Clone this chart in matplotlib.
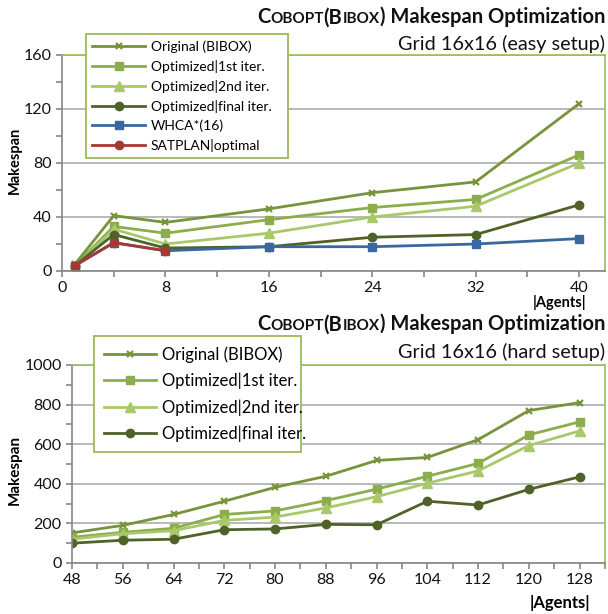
import matplotlib.pyplot as plt
from matplotlib.ticker import MultipleLocator
from matplotlib.offsetbox import TextArea, HPacker, AnnotationBbox

plt.rcParams['font.family'] = ['Lato', 'DejaVu Sans']

# easy setup (top chart)
easy_agents = [1, 4, 8, 16, 24, 32, 40]
easy_original = [5, 41, 36, 46, 58, 66, 124]
easy_opt1 = [4, 33, 28, 38, 47, 53, 86]
easy_opt2 = [3, 31, 20, 28, 40, 48, 80]
easy_final = [4, 27, 17, 18, 25, 27, 49]
easy_whca = [4, 21, 15, 18, 18, 20, 24]
satplan_agents = [1, 4, 8]
easy_satplan = [4, 21, 15]

# hard setup (bottom chart)
hard_agents = [48, 56, 64, 72, 80, 88, 96, 104, 112, 120, 128]
hard_original = [152, 190, 245, 312, 382, 438, 518, 533, 623, 770, 810]
hard_opt1 = [130, 155, 175, 245, 263, 315, 373, 438, 503, 647, 713]
hard_opt2 = [120, 148, 163, 215, 232, 278, 335, 403, 465, 593, 667]
hard_final = [100, 115, 120, 168, 172, 195, 193, 312, 293, 372, 435]

C_ORIG = '#77933c'
C_OPT1 = '#8cad4b'
C_OPT2 = '#a9c86c'
C_FINAL = '#4f6228'
C_WHCA = '#3a67a0'
C_SAT = '#a83733'
FRAME = '#9bbb59'
AXC = '#868686'

W, H = 608, 614
fig = plt.figure(figsize=(W / 100, H / 100), dpi=100)


def px(x, y):
    return x / W, 1 - y / H


def make_axes(left, top, right, bottom):
    ax = fig.add_axes([left / W, 1 - bottom / H, (right - left) / W, (bottom - top) / H])
    for s in ['top', 'right']:
        ax.spines[s].set_color(FRAME)
    for s in ['left', 'bottom']:
        ax.spines[s].set_color(AXC)
    for s in ax.spines.values():
        s.set_linewidth(1.2)
    ax.yaxis.grid(True, color='#a6a6a6', lw=1.1)
    ax.set_axisbelow(True)
    ax.tick_params(which='both', direction='out', color=AXC, width=1.2, labelsize=11.5,
                   labelcolor='#111111')
    ax.tick_params(which='major', length=4)
    ax.tick_params(which='minor', length=4)
    return ax


def title(y1, y2, sub):
    parts = [('C', 14.5), ('OBOPT', 11), ('(B', 14.5), ('IBOX', 11), (') Makespan Optimization', 14.5)]
    areas = [TextArea(t, textprops=dict(fontsize=s, fontweight='bold', color='#111111'))
             for t, s in parts]
    box = HPacker(children=areas, align='baseline', pad=0, sep=0)
    ab = AnnotationBbox(box, px(605, y1), xycoords='figure fraction', box_alignment=(1, 0.5),
                        frameon=False, pad=0)
    fig.add_artist(ab)
    fig.text(*px(605, y2), sub, ha='right', va='center', fontsize=14.3, color='#111111')


def legend(ax, x0, y0, x1, y1, fs, spacing, hl, bpad):
    leg = ax.legend(loc='upper left',
                    bbox_to_anchor=(x0 / W, 1 - y1 / H, (x1 - x0) / W, (y1 - y0) / H),
                    bbox_transform=fig.transFigure, mode='expand', fontsize=fs,
                    frameon=True, fancybox=False, edgecolor=FRAME, framealpha=1,
                    handlelength=hl, labelspacing=spacing, borderpad=bpad,
                    handletextpad=0.4, borderaxespad=0)
    leg.get_frame().set_linewidth(1.3)


# ---------------- top chart ----------------
ax1 = make_axes(62, 55, 605, 271)
ax1.plot(easy_agents, easy_original, color=C_ORIG, lw=2, marker='x', ms=5, mew=1.6,
         label='Original (BIBOX)')
ax1.plot(easy_agents, easy_opt1, color=C_OPT1, lw=2, marker='s', ms=6, label='Optimized|1st iter.')
ax1.plot(easy_agents, easy_opt2, color=C_OPT2, lw=2, marker='^', ms=7, label='Optimized|2nd iter.')
ax1.plot(easy_agents, easy_final, color=C_FINAL, lw=2, marker='o', ms=6, label='Optimized|final iter.')
ax1.plot(easy_agents, easy_whca, color=C_WHCA, lw=2, marker='s', ms=6, label='WHCA*(16)')
ax1.plot(satplan_agents, easy_satplan, color=C_SAT, lw=2, marker='o', ms=6, label='SATPLAN|optimal')
ax1.set_xlim(0, 42)
ax1.set_ylim(0, 160)
ax1.set_xticks([0, 8, 16, 24, 32, 40])
ax1.xaxis.set_minor_locator(MultipleLocator(4))
ax1.set_yticks([0, 40, 80, 120, 160])
ax1.yaxis.set_minor_locator(MultipleLocator(20))
legend(ax1, 86, 34, 288, 161, 10, 0.5, 3.8, 0.45)
title(17, 44, 'Grid 16x16 (easy setup)')
fig.text(*px(560, 302), '|Agents|', ha='center', va='center', fontsize=10.5, fontweight='bold')
fig.text(*px(15, 160), 'Makespan', ha='center', va='center', rotation=90, fontsize=10.5,
         fontweight='bold')

# ---------------- bottom chart ----------------
ax2 = make_axes(72, 365, 605, 563)
ax2.plot(hard_agents, hard_original, color=C_ORIG, lw=2, marker='x', ms=5, mew=1.6,
         label='Original (BIBOX)')
ax2.plot(hard_agents, hard_opt1, color=C_OPT1, lw=2, marker='s', ms=6, label='Optimized|1st iter.')
ax2.plot(hard_agents, hard_opt2, color=C_OPT2, lw=2, marker='^', ms=7, label='Optimized|2nd iter.')
ax2.plot(hard_agents, hard_final, color=C_FINAL, lw=2, marker='o', ms=6, label='Optimized|final iter.')
ax2.set_xlim(48, 132)
ax2.set_ylim(0, 1000)
ax2.set_xticks(hard_agents)
ax2.xaxis.set_minor_locator(MultipleLocator(4))
ax2.set_yticks([0, 200, 400, 600, 800, 1000])
ax2.yaxis.set_minor_locator(MultipleLocator(100))
legend(ax2, 94, 336, 301, 448, 12, 0.6, 3.1, 0.6)
title(324, 352, 'Grid 16x16 (hard setup)')
fig.text(*px(560, 603), '|Agents|', ha='center', va='center', fontsize=12, fontweight='bold')
fig.text(*px(15, 470), 'Makespan', ha='center', va='center', rotation=90, fontsize=11,
         fontweight='bold')

fig.savefig('out.png', dpi=100)
